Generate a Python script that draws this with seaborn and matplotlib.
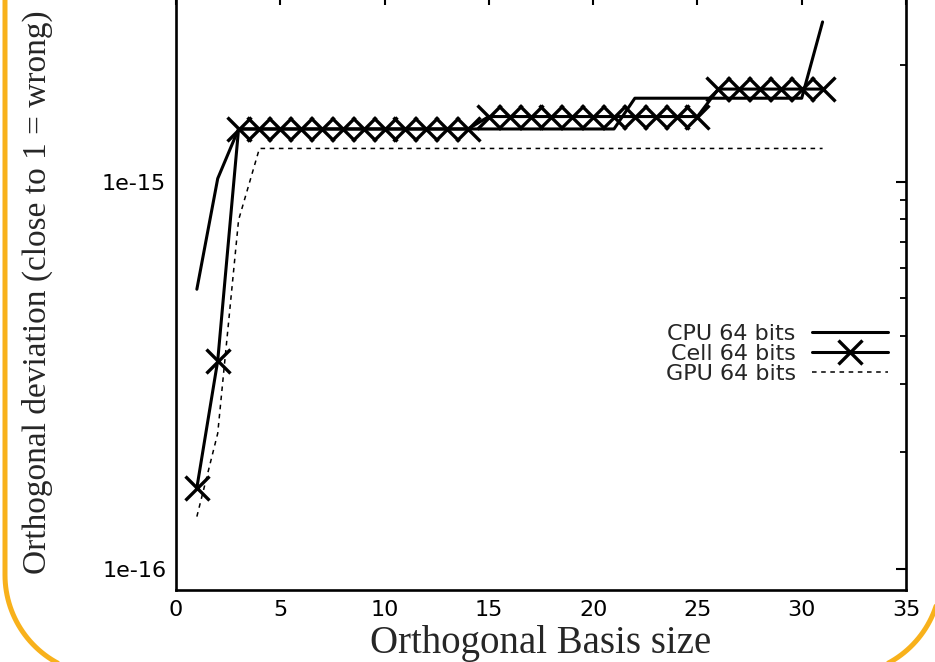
import matplotlib
matplotlib.use('Agg')
import matplotlib.pyplot as plt
from matplotlib.ticker import LogLocator, FuncFormatter, NullLocator, FixedLocator
import seaborn as sns
import pandas as pd
import numpy as np

# values
basis_size = [1, 2, 3, 4, 5, 6, 7, 8, 9, 10, 11, 12, 13, 14, 15, 16,
              17, 18, 19, 20, 21, 22, 23, 24, 25, 26, 27, 28, 29, 30, 31]

cpu_64 = [5.28e-16, 1.02e-15, 1.37e-15, 1.37e-15, 1.37e-15, 1.37e-15, 1.37e-15,
          1.37e-15, 1.37e-15, 1.37e-15, 1.37e-15, 1.37e-15, 1.37e-15, 1.37e-15,
          1.37e-15, 1.37e-15, 1.37e-15, 1.37e-15, 1.37e-15, 1.37e-15, 1.37e-15,
          1.645e-15, 1.645e-15, 1.645e-15, 1.645e-15, 1.645e-15, 1.645e-15,
          1.645e-15, 1.645e-15, 1.645e-15, 2.59e-15]

cell_64 = [1.62e-16, 3.45e-16, 1.37e-15, 1.37e-15, 1.37e-15, 1.37e-15, 1.37e-15,
           1.37e-15, 1.37e-15, 1.37e-15, 1.37e-15, 1.37e-15, 1.37e-15, 1.37e-15,
           1.475e-15, 1.475e-15, 1.475e-15, 1.475e-15, 1.475e-15, 1.475e-15,
           1.475e-15, 1.475e-15, 1.475e-15, 1.475e-15, 1.475e-15,
           1.737e-15, 1.737e-15, 1.737e-15, 1.737e-15, 1.737e-15, 1.737e-15]

gpu_64 = [1.365e-16, 2.24e-16, 7.97e-16, 1.22e-15, 1.22e-15, 1.22e-15, 1.22e-15,
          1.22e-15, 1.22e-15, 1.22e-15, 1.22e-15, 1.22e-15, 1.22e-15, 1.22e-15,
          1.22e-15, 1.22e-15, 1.22e-15, 1.22e-15, 1.22e-15, 1.22e-15, 1.22e-15,
          1.22e-15, 1.22e-15, 1.22e-15, 1.22e-15, 1.22e-15, 1.22e-15, 1.22e-15,
          1.22e-15, 1.22e-15, 1.22e-15]

x_ticks = [0, 5, 10, 15, 20, 25, 30, 35]
y_minor = [2e-16, 3e-16, 4e-16, 5e-16, 6e-16, 7e-16, 8e-16, 9e-16, 2e-15, 3e-15]

sns.set_style('white')
plt.rcParams['font.family'] = ['DejaVu Sans']

fig = plt.figure(figsize=(9.35, 6.62), dpi=100)

# orange rounded frame around the slide picture (pixel coords, y down)
bg = fig.add_axes([0, 0, 1, 1], zorder=-1)
bg.set_xlim(0, 935)
bg.set_ylim(662, 0)
bg.axis('off')
r = 100
t1 = np.linspace(np.pi, np.pi / 2, 40)
t2 = np.linspace(np.pi / 2, 0, 40)
fx = np.concatenate([[5], 5 + r + r * np.cos(t1), 941 - r + r * np.cos(t2), [941]])
fy = np.concatenate([[-20], 575 + r * np.sin(t1), 575 + r * np.sin(t2), [-20]])
bg.plot(fx, fy, color='#F8B11B', lw=3.6, solid_joinstyle='round')

ax = fig.add_axes([176/935, 1 - 590/662, 730/935, 595/662])
ax.patch.set_alpha(0)

df = pd.DataFrame({'size': basis_size, 'cpu': cpu_64, 'cell': cell_64, 'gpu': gpu_64})

sns.lineplot(data=df, x='size', y='cpu', ax=ax, color='black', lw=2.2,
             label='CPU 64 bits')
sns.lineplot(data=df, x='size', y='cell', ax=ax, color='black', lw=2.2,
             marker='x', markersize=17.5, markeredgewidth=2.4,
             markeredgecolor='black', label='Cell 64 bits')
sns.lineplot(data=df, x='size', y='gpu', ax=ax, color='black', lw=1.1,
             linestyle=(0, (3, 3)), label='GPU 64 bits')

ax.set_yscale('log')
ax.set_xlim(0, 35)
ax.set_ylim(8.82e-17, 3.04e-15)
ax.set_xticks(x_ticks)
ax.xaxis.set_minor_locator(NullLocator())
ax.yaxis.set_major_locator(LogLocator(base=10))
ax.yaxis.set_minor_locator(FixedLocator(y_minor))
ax.yaxis.set_major_formatter(FuncFormatter(lambda v, p: '1e%d' % round(np.log10(v))))
ax.yaxis.set_minor_formatter(FuncFormatter(lambda v, p: ''))

ax.tick_params(which='both', direction='in', top=True, right=True, colors='black')
ax.tick_params(which='major', length=7.5, width=1.5, labelsize=16, pad=7)
ax.tick_params(which='minor', length=4, width=1.3)
for s in ax.spines.values():
    s.set_linewidth(1.9)
    s.set_color('black')

ax.set_xlabel('Orthogonal Basis size', family='Liberation Serif', fontsize=28)
ax.set_ylabel('Orthogonal deviation (close to 1 = wrong)', family='Liberation Serif',
              fontsize=24)
ax.xaxis.set_label_coords(0.5, -0.058)
ax.yaxis.set_label_coords(-0.168, 0.5)

ax.legend(loc='center right', bbox_to_anchor=(888/935, 1 - 353.7/662),
          bbox_transform=fig.transFigure, frameon=False, markerfirst=False,
          handlelength=3.4, handletextpad=0.75, labelspacing=0.0,
          borderpad=0, borderaxespad=0, fontsize=16)

fig.savefig('out.png', dpi=100)
